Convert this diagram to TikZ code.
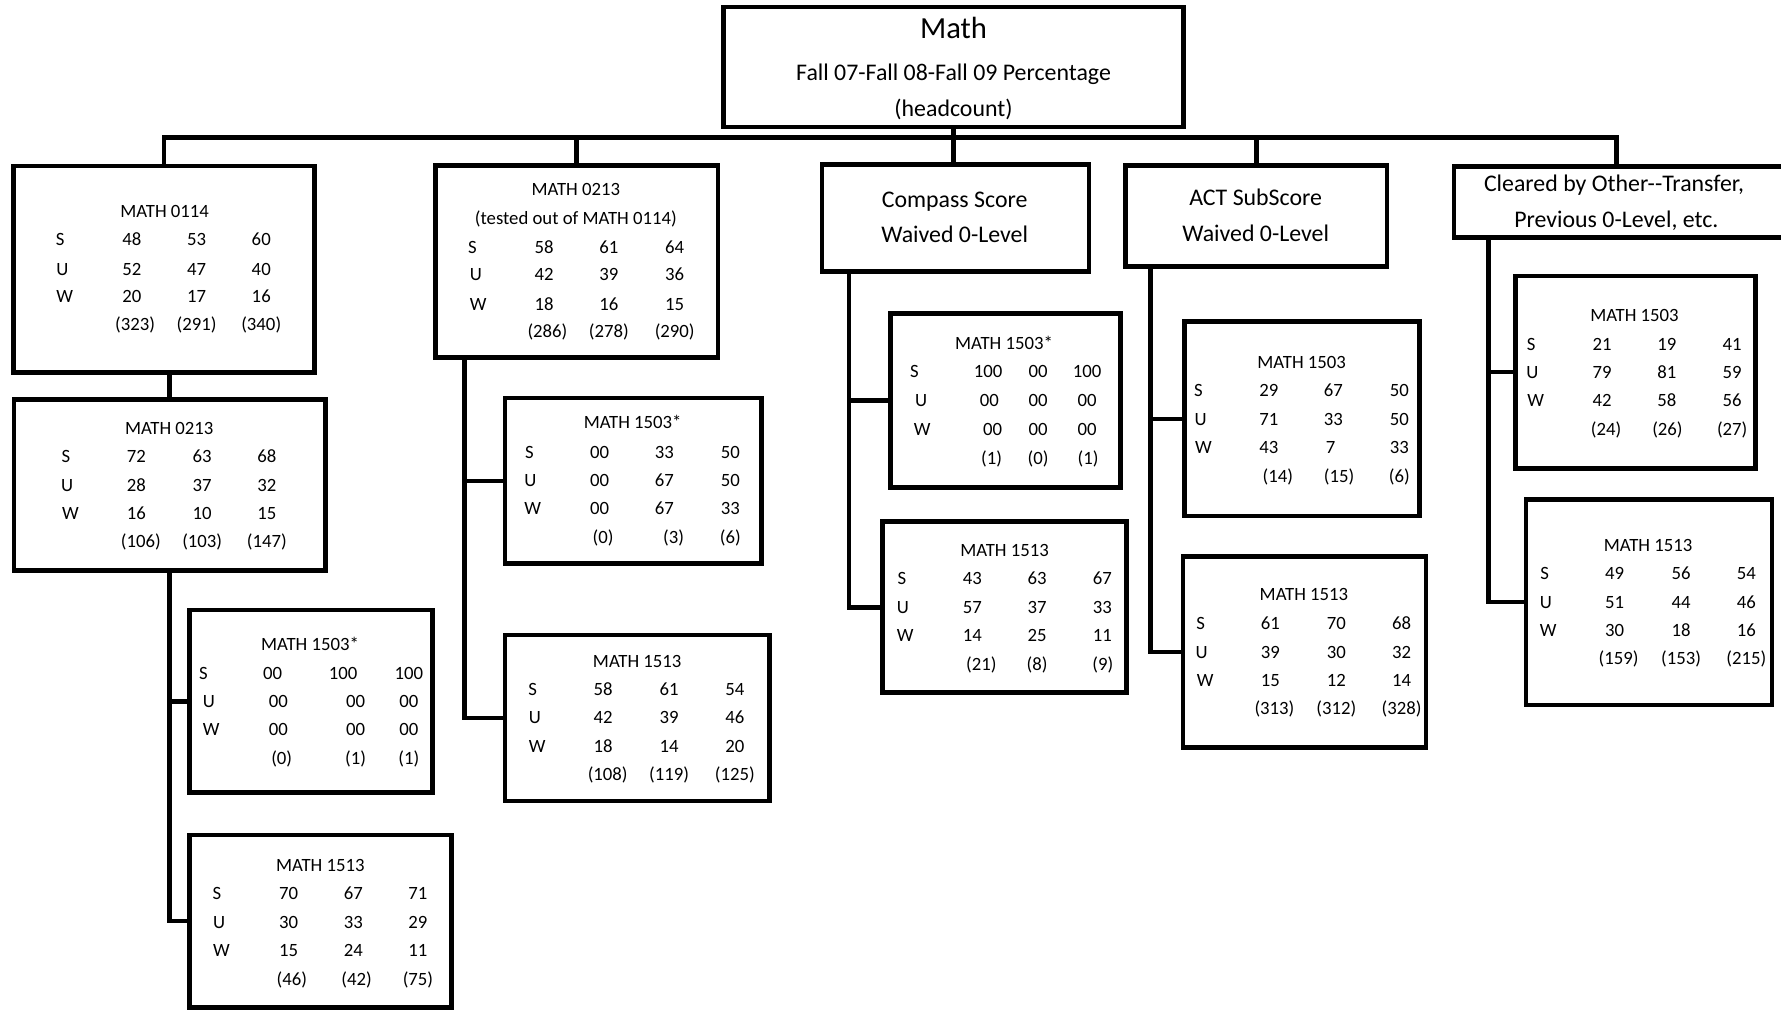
\documentclass[tikz,border=0pt]{standalone}
\usepackage{fontspec}
\setmainfont{Carlito}
\newcounter{tn}
\newcommand\T[3]{\stepcounter{tn}\node[txt] (t\arabic{tn}) at (#1,#2) {#3};}
\newcommand\Row[9]{\T{#2}{#1}{#3}\T{#4}{#1}{#5}\T{#6}{#1}{#7}\T{#8}{#1}{#9}}
\newcommand\Cnt[7]{\T{#2}{#1}{#3}\T{#4}{#1}{#5}\T{#6}{#1}{#7}}
\begin{document}
\begin{tikzpicture}[x=1pt,y=-1pt,
  box/.style={draw, rectangle, line width=4pt, inner sep=0pt, outer sep=0pt},
  conn/.style={line width=4pt},
  txt/.style={inner sep=0pt, anchor=base, yshift=-5.3pt, font=\fontsize{16.5}{18}\selectfont},
  head/.style={inner sep=0pt, anchor=base, yshift=-6.7pt, font=\fontsize{21}{24}\selectfont},
  big/.style={inner sep=0pt, anchor=base, yshift=-8.6pt, font=\fontsize{27}{30}\selectfont},
]
\useasboundingbox (0,0) rectangle (1568,889);

% ---------- boxes ----------
\node[box, minimum width=405pt, minimum height=106pt] (math) at (839.5,59) {};
\node[box, minimum width=265pt, minimum height=182pt] (b1) at (144.5,237) {};
\node[box, minimum width=274.5pt, minimum height=151pt] (b2) at (149.4,427) {};
\node[box, minimum width=214pt, minimum height=161pt] (b3) at (274,617.4) {};
\node[box, minimum width=230.6pt, minimum height=152pt] (b4) at (282.3,811) {};
\node[box, minimum width=248.8pt, minimum height=169pt] (m1) at (507.7,230.4) {};
\node[box, minimum width=225.6pt, minimum height=145.7pt] (m2) at (557.5,423.35) {};
\node[box, minimum width=232.7pt, minimum height=146.1pt] (m3) at (561,632.25) {};
\node[box, minimum width=235.3pt, minimum height=94.5pt] (c0) at (841.25,191.95) {};
\node[box, minimum width=202.2pt, minimum height=153.5pt] (c1) at (885.3,352.65) {};
\node[box, minimum width=214.9pt, minimum height=150.6pt] (c2) at (884.55,534.6) {};
\node[box, minimum width=230.4pt, minimum height=88.9pt] (a0) at (1106,190.35) {};
\node[box, minimum width=207pt, minimum height=171.1pt] (a1) at (1146.3,368.75) {};
\node[box, minimum width=213.6pt, minimum height=168.2pt] (a2) at (1148.5,574.2) {};
\node[box, minimum width=295pt, minimum height=62.2pt] (o0) at (1427.5,177.9) {};
\node[box, minimum width=211.6pt, minimum height=169.3pt] (o1) at (1439.9,327.65) {};
\node[box, minimum width=216.5pt, minimum height=181.1pt] (o2) at (1451.75,530.15) {};

% ---------- connectors ----------
\coordinate (bus) at (840,121);
\coordinate (tdo) at (1423,0);
\coordinate (tm) at (408.8,0);
\coordinate (tc) at (747.3,0);
\coordinate (ta) at (1012.9,0);
\coordinate (to) at (1310.4,0);
\draw[conn] (b1.north) |- (bus) -| (o0.north -| tdo);
\draw[conn] (m1.north) -- (m1.north |- bus);
\draw[conn] (a0.north) -- (a0.north |- bus);
\draw[conn] (math.south) -- (math.south |- c0.north);
\draw[conn] (b2.north) -- (b2.north |- b1.south);
\draw[conn] (b2.south) |- (b3.west);
\draw[conn] (b2.south) |- (b4.west);
\draw[conn] (m1.south -| tm) |- (m2.west);
\draw[conn] (m1.south -| tm) |- (m3.west);
\draw[conn] (c0.south -| tc) |- (c1.west);
\draw[conn] (c0.south -| tc) |- (c2.west);
\draw[conn] (a0.south -| ta) |- (a1.west);
\draw[conn] (a0.south -| ta) |- (a2.west);
\draw[conn] (o0.south -| to) |- (o1.west);
\draw[conn] (o0.south -| to) |- (o2.west);

% ---------- texts ----------
\node[big] (mathT) at (839.5,25) {Math};
\node[head] (mathF) at (839.5,64.5) {Fall 07-Fall 08-Fall 09 Percentage};
\node[head] (mathH) at (839.5,95.5) {(headcount)};

\node[head] (c0a) at (840.5,176) {Compass Score};
\node[head] (c0b) at (840.5,207) {Waived 0-Level};
\node[head] (a0a) at (1105.5,174.5) {ACT SubScore};
\node[head] (a0b) at (1105.5,205.5) {Waived 0-Level};
\node[head] (o0a) at (1421,161.5) {Cleared by Other-{}-Transfer,};
\node[head] (o0b) at (1423,193.5) {Previous 0-Level, etc.};

% b1
\T{145}{186.5}{MATH 0114}
\Row{211}{53}{S}{116}{48}{173}{53}{230}{60}
\Row{237}{55}{U}{116}{52}{173}{47}{230}{40}
\Row{261}{57}{W}{116}{20}{173}{17}{230}{16}
\Cnt{286}{119}{(323)}{173}{(291)}{230}{(340)}
% m1
\T{507}{167}{MATH 0213}
\T{507}{192}{(tested out of MATH 0114)}
\Row{218}{416}{S}{479}{58}{536}{61}{594}{64}
\Row{242}{419}{U}{479}{42}{536}{39}{594}{36}
\Row{268}{421}{W}{479}{18}{536}{16}{594}{15}
\Cnt{292}{482}{(286)}{536}{(278)}{594}{(290)}
% b2
\T{149}{377}{MATH 0213}
\Row{402}{58}{S}{120}{72}{178}{63}{235}{68}
\Row{427}{59}{U}{120}{28}{178}{37}{235}{32}
\Row{452}{62}{W}{120}{16}{178}{10}{235}{15}
\Cnt{477}{124}{(106)}{178}{(103)}{235}{(147)}
% b3
\T{273}{567}{MATH 1503*}
\Row{593}{179}{S}{240}{00}{302}{100}{360}{100}
\Row{617.5}{184}{U}{245}{00}{313}{00}{360}{00}
\Row{642}{186}{W}{245}{00}{313}{00}{360}{00}
\Cnt{668}{248}{(0)}{313}{(1)}{360}{(1)}
% b4
\T{282}{762}{MATH 1513}
\Row{787}{191}{S}{254}{70}{311}{67}{368}{71}
\Row{812}{193}{U}{254}{30}{311}{33}{368}{29}
\Row{837}{195}{W}{254}{15}{311}{24}{368}{11}
\Cnt{862}{257}{(46)}{314}{(42)}{368}{(75)}
% m2
\T{557}{372}{MATH 1503*}
\Row{398}{466}{S}{528}{00}{585}{33}{643}{50}
\Row{423}{467}{U}{528}{00}{585}{67}{643}{50}
\Row{448}{469}{W}{528}{00}{585}{67}{643}{33}
\Cnt{473}{531}{(0)}{593}{(3)}{643}{(6)}
% m3
\T{561}{582}{MATH 1513}
\Row{607}{469}{S}{531}{58}{589}{61}{647}{54}
\Row{632}{471}{U}{531}{42}{589}{39}{647}{46}
\Row{657}{473}{W}{531}{18}{589}{14}{647}{20}
\Cnt{682}{535}{(108)}{589}{(119)}{647}{(125)}
% c1
\T{884}{302}{MATH 1503*}
\Row{327}{805}{S}{870}{100}{914}{00}{957}{100}
\Row{353}{811}{U}{871}{00}{914}{00}{957}{00}
\Row{378}{812}{W}{874}{00}{914}{00}{957}{00}
\Cnt{403.5}{873}{(1)}{914}{(0)}{958}{(1)}
% c2
\T{884.5}{485}{MATH 1513}
\Row{509.5}{794}{S}{856}{43}{913}{63}{970.5}{67}
\Row{534.5}{795}{U}{856}{57}{913}{37}{970.5}{33}
\Row{559.5}{797}{W}{856}{14}{913}{25}{970.5}{11}
\Cnt{585}{864}{(21)}{913}{(8)}{971}{(9)}
% a1
\T{1146}{319}{MATH 1503}
\Row{343.5}{1055}{S}{1117}{29}{1174}{67}{1232}{50}
\Row{369}{1057}{U}{1117}{71}{1174}{33}{1232}{50}
\Row{394}{1059.5}{W}{1117}{43}{1171.5}{7}{1232}{33}
\Cnt{419.5}{1125}{(14)}{1179}{(15)}{1232}{(6)}
% a2
\T{1148}{523}{MATH 1513}
\Row{549}{1057}{S}{1118.5}{61}{1176.5}{70}{1234}{68}
\Row{574}{1058}{U}{1118.5}{39}{1176.5}{30}{1234}{32}
\Row{599}{1061}{W}{1118.5}{15}{1176.5}{12}{1234}{14}
\Cnt{624}{1122}{(313)}{1176.5}{(312)}{1234}{(328)}
% o1
\T{1439}{277.5}{MATH 1503}
\Row{303}{1348}{S}{1410.5}{21}{1467.5}{19}{1525}{41}
\Row{328}{1349}{U}{1410.5}{79}{1467.5}{81}{1525}{59}
\Row{353}{1352}{W}{1410.5}{42}{1467.5}{58}{1525}{56}
\Cnt{378.5}{1414}{(24)}{1468}{(26)}{1525}{(27)}
% o2
\T{1451}{480.5}{MATH 1513}
\Row{505}{1360}{S}{1421.5}{49}{1480}{56}{1537.5}{54}
\Row{530}{1361}{U}{1421.5}{51}{1480}{44}{1537.5}{46}
\Row{555}{1363}{W}{1421.5}{30}{1480}{18}{1537.5}{16}
\Cnt{579.5}{1425}{(159)}{1480}{(153)}{1537.5}{(215)}
\end{tikzpicture}
\end{document}
